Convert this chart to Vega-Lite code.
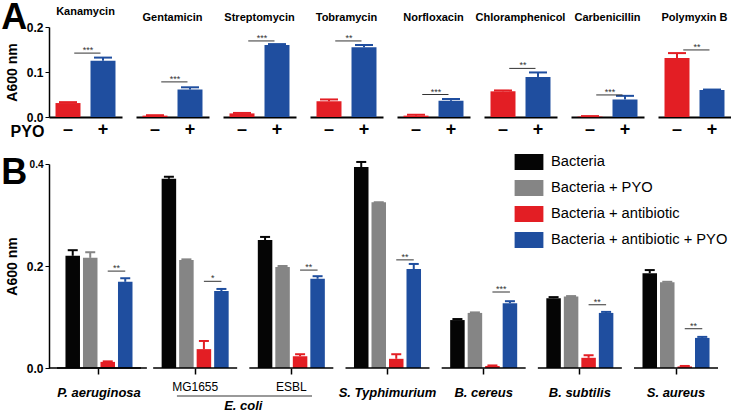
{
  "$schema": "https://vega.github.io/schema/vega-lite/v6.json",
  "padding": {"left": 1, "top": 0, "right": 0, "bottom": 0},
  "spacing": 15,
  "resolve": {"legend": {"color": "independent"}, "scale": {"color": "independent"}},
  "config": {
    "font": "Liberation Sans",
    "view": {"stroke": null},
    "axis": {"grid": false, "labelColor": "black", "titleColor": "black", "domainColor": "black", "tickColor": "black"},
    "title": {"fontSize": 11, "fontWeight": "bold", "offset": 4, "color": "black"},
    "tick": {"opacity": 1}
  },
  "datasets": {
    "A": [
      {"antibiotic": "Kanamycin", "pyo": "–", "value": 0.031, "hi": 0.033},
      {"antibiotic": "Kanamycin", "pyo": "+", "value": 0.125, "hi": 0.132, "sig": 0.142, "stars": "***"},
      {"antibiotic": "Gentamicin", "pyo": "–", "value": 0.003, "hi": 0.004},
      {"antibiotic": "Gentamicin", "pyo": "+", "value": 0.061, "hi": 0.066, "sig": 0.078, "stars": "***"},
      {"antibiotic": "Streptomycin", "pyo": "–", "value": 0.008, "hi": 0.009},
      {"antibiotic": "Streptomycin", "pyo": "+", "value": 0.16, "hi": 0.162, "sig": 0.169, "stars": "***"},
      {"antibiotic": "Tobramycin", "pyo": "–", "value": 0.035, "hi": 0.039},
      {"antibiotic": "Tobramycin", "pyo": "+", "value": 0.155, "hi": 0.16, "sig": 0.169, "stars": "**"},
      {"antibiotic": "Norfloxacin", "pyo": "–", "value": 0.003, "hi": 0.005},
      {"antibiotic": "Norfloxacin", "pyo": "+", "value": 0.036, "hi": 0.04, "sig": 0.05, "stars": "***"},
      {"antibiotic": "Chloramphenicol", "pyo": "–", "value": 0.057, "hi": 0.059},
      {"antibiotic": "Chloramphenicol", "pyo": "+", "value": 0.089, "hi": 0.099, "sig": 0.108, "stars": "**"},
      {"antibiotic": "Carbenicillin", "pyo": "–", "value": 0.001, "hi": 0.002},
      {"antibiotic": "Carbenicillin", "pyo": "+", "value": 0.039, "hi": 0.047, "sig": 0.049, "stars": "***"},
      {"antibiotic": "Polymyxin B", "pyo": "–", "value": 0.131, "hi": 0.142},
      {"antibiotic": "Polymyxin B", "pyo": "+", "value": 0.06, "hi": 0.061, "sig": 0.149, "stars": "**"}
    ],
    "B": [
      {"group": "P. aeruginosa", "cond": "Bacteria", "value": 0.22, "hi": 0.231},
      {"group": "P. aeruginosa", "cond": "Bacteria + PYO", "value": 0.216, "hi": 0.227},
      {"group": "P. aeruginosa", "cond": "Bacteria + antibiotic", "value": 0.012, "hi": 0.013},
      {"group": "P. aeruginosa", "cond": "Bacteria + antibiotic + PYO", "value": 0.169, "hi": 0.176, "sig": 0.19, "stars": "**"},
      {"group": "MG1655", "cond": "Bacteria", "value": 0.371, "hi": 0.375},
      {"group": "MG1655", "cond": "Bacteria + PYO", "value": 0.212, "hi": 0.213},
      {"group": "MG1655", "cond": "Bacteria + antibiotic", "value": 0.037, "hi": 0.053},
      {"group": "MG1655", "cond": "Bacteria + antibiotic + PYO", "value": 0.151, "hi": 0.155, "sig": 0.17, "stars": "*"},
      {"group": "ESBL", "cond": "Bacteria", "value": 0.251, "hi": 0.257},
      {"group": "ESBL", "cond": "Bacteria + PYO", "value": 0.198, "hi": 0.2},
      {"group": "ESBL", "cond": "Bacteria + antibiotic", "value": 0.023, "hi": 0.027},
      {"group": "ESBL", "cond": "Bacteria + antibiotic + PYO", "value": 0.175, "hi": 0.18, "sig": 0.192, "stars": "**"},
      {"group": "S. Typhimurium", "cond": "Bacteria", "value": 0.394, "hi": 0.404},
      {"group": "S. Typhimurium", "cond": "Bacteria + PYO", "value": 0.325, "hi": 0.325},
      {"group": "S. Typhimurium", "cond": "Bacteria + antibiotic", "value": 0.018, "hi": 0.027},
      {"group": "S. Typhimurium", "cond": "Bacteria + antibiotic + PYO", "value": 0.194, "hi": 0.204, "sig": 0.212, "stars": "**"},
      {"group": "B. cereus", "cond": "Bacteria", "value": 0.094, "hi": 0.096},
      {"group": "B. cereus", "cond": "Bacteria + PYO", "value": 0.108, "hi": 0.109},
      {"group": "B. cereus", "cond": "Bacteria + antibiotic", "value": 0.004, "hi": 0.005},
      {"group": "B. cereus", "cond": "Bacteria + antibiotic + PYO", "value": 0.127, "hi": 0.131, "sig": 0.149, "stars": "***"},
      {"group": "B. subtilis", "cond": "Bacteria", "value": 0.137, "hi": 0.139},
      {"group": "B. subtilis", "cond": "Bacteria + PYO", "value": 0.14, "hi": 0.141},
      {"group": "B. subtilis", "cond": "Bacteria + antibiotic", "value": 0.02, "hi": 0.025},
      {"group": "B. subtilis", "cond": "Bacteria + antibiotic + PYO", "value": 0.108, "hi": 0.11, "sig": 0.124, "stars": "**"},
      {"group": "S. aureus", "cond": "Bacteria", "value": 0.186, "hi": 0.192},
      {"group": "S. aureus", "cond": "Bacteria + PYO", "value": 0.168, "hi": 0.169},
      {"group": "S. aureus", "cond": "Bacteria + antibiotic", "value": 0.003, "hi": 0.004},
      {"group": "S. aureus", "cond": "Bacteria + antibiotic + PYO", "value": 0.059, "hi": 0.061, "sig": 0.077, "stars": "**"}
    ]
  },
  "vconcat": [
    {
      "title": {"text": "A", "anchor": "start", "frame": "bounds", "fontSize": 36, "fontWeight": "bold", "offset": 0, "dx": -4, "dy": 59, "baseline": "alphabetic"},
      "hconcat": [
        {
          "title": "Kanamycin", "width": 73, "height": 90,
          "data": {"name": "A"},
          "transform": [{"filter": "datum.antibiotic === 'Kanamycin'"}],
          "encoding": {"x": {"field": "pyo", "type": "nominal", "sort": ["–", "+"], "scale": {"domain": ["–", "+"], "paddingInner": 0.286, "paddingOuter": 0.186},
            "axis": {"title": "PYO", "titleFontSize": 16, "titleFontWeight": "bold", "titleX": -22, "titleY": 14, "titleBaseline": "middle", "titleAlign": "center", "labelAngle": 0, "ticks": false, "labelFontSize": 18, "labelFontWeight": "bold", "domainWidth": 2, "labelPadding": 3}}},
          "layer": [
            {"mark": {"type": "bar"}, "encoding": {"y": {"field": "value", "type": "quantitative", "scale": {"domain": [0, 0.2]}, "axis": {"title": "A600 nm", "values": [0, 0.1, 0.2], "format": ".1f", "labelFontWeight": "bold", "labelFontSize": 12, "titleFontSize": 14, "titleFontWeight": "bold", "titlePadding": 7, "tickSize": 4, "labelPadding": 2, "domainWidth": 1.5}}, "color": {"condition": {"test": "datum.pyo === '+'", "value": "#1f4e9f"}, "value": "#e31e24"}}},
            {"mark": {"type": "rule", "strokeWidth": 2}, "encoding": {"y": {"field": "value", "type": "quantitative"}, "y2": {"field": "hi"}, "color": {"condition": {"test": "datum.pyo === '+'", "value": "#1f4e9f"}, "value": "#e31e24"}}},
            {"mark": {"type": "tick", "orient": "horizontal", "size": 18, "thickness": 2, "opacity": 1}, "encoding": {"y": {"field": "hi", "type": "quantitative"}, "color": {"condition": {"test": "datum.pyo === '+'", "value": "#1f4e9f"}, "value": "#e31e24"}}},
            {"transform": [{"filter": "datum.pyo === '+'"}], "mark": {"type": "rule", "strokeWidth": 1, "color": "#333"}, "encoding": {"x": {"datum": "–", "bandPosition": 0.75}, "x2": {"datum": "+", "bandPosition": 0.4}, "y": {"field": "sig", "type": "quantitative"}}},
            {"transform": [{"filter": "datum.pyo === '+'"}], "mark": {"type": "text", "fontSize": 9, "baseline": "alphabetic", "color": "#333"}, "encoding": {"x": {"field": "pyo", "type": "nominal", "bandPosition": -0.1}, "y": {"field": "sig", "type": "quantitative"}, "text": {"field": "stars"}}}
          ]
        },
        {
          "title": "Gentamicin", "width": 73, "height": 90,
          "data": {"name": "A"},
          "transform": [{"filter": "datum.antibiotic === 'Gentamicin'"}],
          "encoding": {"x": {"field": "pyo", "type": "nominal", "sort": ["–", "+"], "scale": {"domain": ["–", "+"], "paddingInner": 0.286, "paddingOuter": 0.186},
            "axis": {"title": null, "labelAngle": 0, "ticks": false, "labelFontSize": 18, "labelFontWeight": "bold", "domainWidth": 2, "labelPadding": 3}}},
          "layer": [
            {"mark": {"type": "bar"}, "encoding": {"y": {"field": "value", "type": "quantitative", "scale": {"domain": [0, 0.2]}, "axis": null}, "color": {"condition": {"test": "datum.pyo === '+'", "value": "#1f4e9f"}, "value": "#e31e24"}}},
            {"mark": {"type": "rule", "strokeWidth": 2}, "encoding": {"y": {"field": "value", "type": "quantitative", "axis": null}, "y2": {"field": "hi"}, "color": {"condition": {"test": "datum.pyo === '+'", "value": "#1f4e9f"}, "value": "#e31e24"}}},
            {"mark": {"type": "tick", "orient": "horizontal", "size": 18, "thickness": 2, "opacity": 1}, "encoding": {"y": {"field": "hi", "type": "quantitative", "axis": null}, "color": {"condition": {"test": "datum.pyo === '+'", "value": "#1f4e9f"}, "value": "#e31e24"}}},
            {"transform": [{"filter": "datum.pyo === '+'"}], "mark": {"type": "rule", "strokeWidth": 1, "color": "#333"}, "encoding": {"x": {"datum": "–", "bandPosition": 0.75}, "x2": {"datum": "+", "bandPosition": 0.4}, "y": {"field": "sig", "type": "quantitative", "axis": null}}},
            {"transform": [{"filter": "datum.pyo === '+'"}], "mark": {"type": "text", "fontSize": 9, "baseline": "alphabetic", "color": "#333"}, "encoding": {"x": {"field": "pyo", "type": "nominal", "bandPosition": -0.1}, "y": {"field": "sig", "type": "quantitative", "axis": null}, "text": {"field": "stars"}}}
          ]
        },
        {
          "title": "Streptomycin", "width": 73, "height": 90,
          "data": {"name": "A"},
          "transform": [{"filter": "datum.antibiotic === 'Streptomycin'"}],
          "encoding": {"x": {"field": "pyo", "type": "nominal", "sort": ["–", "+"], "scale": {"domain": ["–", "+"], "paddingInner": 0.286, "paddingOuter": 0.186},
            "axis": {"title": null, "labelAngle": 0, "ticks": false, "labelFontSize": 18, "labelFontWeight": "bold", "domainWidth": 2, "labelPadding": 3}}},
          "layer": [
            {"mark": {"type": "bar"}, "encoding": {"y": {"field": "value", "type": "quantitative", "scale": {"domain": [0, 0.2]}, "axis": null}, "color": {"condition": {"test": "datum.pyo === '+'", "value": "#1f4e9f"}, "value": "#e31e24"}}},
            {"mark": {"type": "rule", "strokeWidth": 2}, "encoding": {"y": {"field": "value", "type": "quantitative", "axis": null}, "y2": {"field": "hi"}, "color": {"condition": {"test": "datum.pyo === '+'", "value": "#1f4e9f"}, "value": "#e31e24"}}},
            {"mark": {"type": "tick", "orient": "horizontal", "size": 18, "thickness": 2, "opacity": 1}, "encoding": {"y": {"field": "hi", "type": "quantitative", "axis": null}, "color": {"condition": {"test": "datum.pyo === '+'", "value": "#1f4e9f"}, "value": "#e31e24"}}},
            {"transform": [{"filter": "datum.pyo === '+'"}], "mark": {"type": "rule", "strokeWidth": 1, "color": "#333"}, "encoding": {"x": {"datum": "–", "bandPosition": 0.75}, "x2": {"datum": "+", "bandPosition": 0.4}, "y": {"field": "sig", "type": "quantitative", "axis": null}}},
            {"transform": [{"filter": "datum.pyo === '+'"}], "mark": {"type": "text", "fontSize": 9, "baseline": "alphabetic", "color": "#333"}, "encoding": {"x": {"field": "pyo", "type": "nominal", "bandPosition": -0.1}, "y": {"field": "sig", "type": "quantitative", "axis": null}, "text": {"field": "stars"}}}
          ]
        },
        {
          "title": "Tobramycin", "width": 73, "height": 90,
          "data": {"name": "A"},
          "transform": [{"filter": "datum.antibiotic === 'Tobramycin'"}],
          "encoding": {"x": {"field": "pyo", "type": "nominal", "sort": ["–", "+"], "scale": {"domain": ["–", "+"], "paddingInner": 0.286, "paddingOuter": 0.186},
            "axis": {"title": null, "labelAngle": 0, "ticks": false, "labelFontSize": 18, "labelFontWeight": "bold", "domainWidth": 2, "labelPadding": 3}}},
          "layer": [
            {"mark": {"type": "bar"}, "encoding": {"y": {"field": "value", "type": "quantitative", "scale": {"domain": [0, 0.2]}, "axis": null}, "color": {"condition": {"test": "datum.pyo === '+'", "value": "#1f4e9f"}, "value": "#e31e24"}}},
            {"mark": {"type": "rule", "strokeWidth": 2}, "encoding": {"y": {"field": "value", "type": "quantitative", "axis": null}, "y2": {"field": "hi"}, "color": {"condition": {"test": "datum.pyo === '+'", "value": "#1f4e9f"}, "value": "#e31e24"}}},
            {"mark": {"type": "tick", "orient": "horizontal", "size": 18, "thickness": 2, "opacity": 1}, "encoding": {"y": {"field": "hi", "type": "quantitative", "axis": null}, "color": {"condition": {"test": "datum.pyo === '+'", "value": "#1f4e9f"}, "value": "#e31e24"}}},
            {"transform": [{"filter": "datum.pyo === '+'"}], "mark": {"type": "rule", "strokeWidth": 1, "color": "#333"}, "encoding": {"x": {"datum": "–", "bandPosition": 0.75}, "x2": {"datum": "+", "bandPosition": 0.4}, "y": {"field": "sig", "type": "quantitative", "axis": null}}},
            {"transform": [{"filter": "datum.pyo === '+'"}], "mark": {"type": "text", "fontSize": 9, "baseline": "alphabetic", "color": "#333"}, "encoding": {"x": {"field": "pyo", "type": "nominal", "bandPosition": -0.1}, "y": {"field": "sig", "type": "quantitative", "axis": null}, "text": {"field": "stars"}}}
          ]
        },
        {
          "title": "Norfloxacin", "width": 73, "height": 90,
          "data": {"name": "A"},
          "transform": [{"filter": "datum.antibiotic === 'Norfloxacin'"}],
          "encoding": {"x": {"field": "pyo", "type": "nominal", "sort": ["–", "+"], "scale": {"domain": ["–", "+"], "paddingInner": 0.286, "paddingOuter": 0.186},
            "axis": {"title": null, "labelAngle": 0, "ticks": false, "labelFontSize": 18, "labelFontWeight": "bold", "domainWidth": 2, "labelPadding": 3}}},
          "layer": [
            {"mark": {"type": "bar"}, "encoding": {"y": {"field": "value", "type": "quantitative", "scale": {"domain": [0, 0.2]}, "axis": null}, "color": {"condition": {"test": "datum.pyo === '+'", "value": "#1f4e9f"}, "value": "#e31e24"}}},
            {"mark": {"type": "rule", "strokeWidth": 2}, "encoding": {"y": {"field": "value", "type": "quantitative", "axis": null}, "y2": {"field": "hi"}, "color": {"condition": {"test": "datum.pyo === '+'", "value": "#1f4e9f"}, "value": "#e31e24"}}},
            {"mark": {"type": "tick", "orient": "horizontal", "size": 18, "thickness": 2, "opacity": 1}, "encoding": {"y": {"field": "hi", "type": "quantitative", "axis": null}, "color": {"condition": {"test": "datum.pyo === '+'", "value": "#1f4e9f"}, "value": "#e31e24"}}},
            {"transform": [{"filter": "datum.pyo === '+'"}], "mark": {"type": "rule", "strokeWidth": 1, "color": "#333"}, "encoding": {"x": {"datum": "–", "bandPosition": 0.75}, "x2": {"datum": "+", "bandPosition": 0.4}, "y": {"field": "sig", "type": "quantitative", "axis": null}}},
            {"transform": [{"filter": "datum.pyo === '+'"}], "mark": {"type": "text", "fontSize": 9, "baseline": "alphabetic", "color": "#333"}, "encoding": {"x": {"field": "pyo", "type": "nominal", "bandPosition": -0.1}, "y": {"field": "sig", "type": "quantitative", "axis": null}, "text": {"field": "stars"}}}
          ]
        },
        {
          "title": "Chloramphenicol", "width": 73, "height": 90,
          "data": {"name": "A"},
          "transform": [{"filter": "datum.antibiotic === 'Chloramphenicol'"}],
          "encoding": {"x": {"field": "pyo", "type": "nominal", "sort": ["–", "+"], "scale": {"domain": ["–", "+"], "paddingInner": 0.286, "paddingOuter": 0.186},
            "axis": {"title": null, "labelAngle": 0, "ticks": false, "labelFontSize": 18, "labelFontWeight": "bold", "domainWidth": 2, "labelPadding": 3}}},
          "layer": [
            {"mark": {"type": "bar"}, "encoding": {"y": {"field": "value", "type": "quantitative", "scale": {"domain": [0, 0.2]}, "axis": null}, "color": {"condition": {"test": "datum.pyo === '+'", "value": "#1f4e9f"}, "value": "#e31e24"}}},
            {"mark": {"type": "rule", "strokeWidth": 2}, "encoding": {"y": {"field": "value", "type": "quantitative", "axis": null}, "y2": {"field": "hi"}, "color": {"condition": {"test": "datum.pyo === '+'", "value": "#1f4e9f"}, "value": "#e31e24"}}},
            {"mark": {"type": "tick", "orient": "horizontal", "size": 18, "thickness": 2, "opacity": 1}, "encoding": {"y": {"field": "hi", "type": "quantitative", "axis": null}, "color": {"condition": {"test": "datum.pyo === '+'", "value": "#1f4e9f"}, "value": "#e31e24"}}},
            {"transform": [{"filter": "datum.pyo === '+'"}], "mark": {"type": "rule", "strokeWidth": 1, "color": "#333"}, "encoding": {"x": {"datum": "–", "bandPosition": 0.75}, "x2": {"datum": "+", "bandPosition": 0.4}, "y": {"field": "sig", "type": "quantitative", "axis": null}}},
            {"transform": [{"filter": "datum.pyo === '+'"}], "mark": {"type": "text", "fontSize": 9, "baseline": "alphabetic", "color": "#333"}, "encoding": {"x": {"field": "pyo", "type": "nominal", "bandPosition": -0.1}, "y": {"field": "sig", "type": "quantitative", "axis": null}, "text": {"field": "stars"}}}
          ]
        },
        {
          "title": "Carbenicillin", "width": 73, "height": 90,
          "data": {"name": "A"},
          "transform": [{"filter": "datum.antibiotic === 'Carbenicillin'"}],
          "encoding": {"x": {"field": "pyo", "type": "nominal", "sort": ["–", "+"], "scale": {"domain": ["–", "+"], "paddingInner": 0.286, "paddingOuter": 0.186},
            "axis": {"title": null, "labelAngle": 0, "ticks": false, "labelFontSize": 18, "labelFontWeight": "bold", "domainWidth": 2, "labelPadding": 3}}},
          "layer": [
            {"mark": {"type": "bar"}, "encoding": {"y": {"field": "value", "type": "quantitative", "scale": {"domain": [0, 0.2]}, "axis": null}, "color": {"condition": {"test": "datum.pyo === '+'", "value": "#1f4e9f"}, "value": "#e31e24"}}},
            {"mark": {"type": "rule", "strokeWidth": 2}, "encoding": {"y": {"field": "value", "type": "quantitative", "axis": null}, "y2": {"field": "hi"}, "color": {"condition": {"test": "datum.pyo === '+'", "value": "#1f4e9f"}, "value": "#e31e24"}}},
            {"mark": {"type": "tick", "orient": "horizontal", "size": 18, "thickness": 2, "opacity": 1}, "encoding": {"y": {"field": "hi", "type": "quantitative", "axis": null}, "color": {"condition": {"test": "datum.pyo === '+'", "value": "#1f4e9f"}, "value": "#e31e24"}}},
            {"transform": [{"filter": "datum.pyo === '+'"}], "mark": {"type": "rule", "strokeWidth": 1, "color": "#333"}, "encoding": {"x": {"datum": "–", "bandPosition": 0.75}, "x2": {"datum": "+", "bandPosition": 0.4}, "y": {"field": "sig", "type": "quantitative", "axis": null}}},
            {"transform": [{"filter": "datum.pyo === '+'"}], "mark": {"type": "text", "fontSize": 9, "baseline": "alphabetic", "color": "#333"}, "encoding": {"x": {"field": "pyo", "type": "nominal", "bandPosition": -0.1}, "y": {"field": "sig", "type": "quantitative", "axis": null}, "text": {"field": "stars"}}}
          ]
        },
        {
          "title": "Polymyxin B", "width": 73, "height": 90,
          "data": {"name": "A"},
          "transform": [{"filter": "datum.antibiotic === 'Polymyxin B'"}],
          "encoding": {"x": {"field": "pyo", "type": "nominal", "sort": ["–", "+"], "scale": {"domain": ["–", "+"], "paddingInner": 0.286, "paddingOuter": 0.186},
            "axis": {"title": null, "labelAngle": 0, "ticks": false, "labelFontSize": 18, "labelFontWeight": "bold", "domainWidth": 2, "labelPadding": 3}}},
          "layer": [
            {"mark": {"type": "bar"}, "encoding": {"y": {"field": "value", "type": "quantitative", "scale": {"domain": [0, 0.2]}, "axis": null}, "color": {"condition": {"test": "datum.pyo === '+'", "value": "#1f4e9f"}, "value": "#e31e24"}}},
            {"mark": {"type": "rule", "strokeWidth": 2}, "encoding": {"y": {"field": "value", "type": "quantitative", "axis": null}, "y2": {"field": "hi"}, "color": {"condition": {"test": "datum.pyo === '+'", "value": "#1f4e9f"}, "value": "#e31e24"}}},
            {"mark": {"type": "tick", "orient": "horizontal", "size": 18, "thickness": 2, "opacity": 1}, "encoding": {"y": {"field": "hi", "type": "quantitative", "axis": null}, "color": {"condition": {"test": "datum.pyo === '+'", "value": "#1f4e9f"}, "value": "#e31e24"}}},
            {"transform": [{"filter": "datum.pyo === '+'"}], "mark": {"type": "rule", "strokeWidth": 1, "color": "#333"}, "encoding": {"x": {"datum": "–", "bandPosition": 0.75}, "x2": {"datum": "+", "bandPosition": 0.4}, "y": {"field": "sig", "type": "quantitative", "axis": null}}},
            {"transform": [{"filter": "datum.pyo === '+'"}], "mark": {"type": "text", "fontSize": 9, "baseline": "alphabetic", "color": "#333"}, "encoding": {"x": {"field": "pyo", "type": "nominal", "bandPosition": -0.1}, "y": {"field": "sig", "type": "quantitative", "axis": null}, "text": {"field": "stars"}}}
          ]
        }
      ],
      "spacing": 14,
      "bounds": "flush"
    },
    {
      "title": {"text": "B", "anchor": "start", "frame": "bounds", "fontSize": 36, "fontWeight": "bold", "offset": 0, "dx": -4, "dy": 66, "baseline": "alphabetic"},
      "width": 677, "height": 204,
      "data": {"name": "B"},
      "encoding": {
        "x": {"field": "group", "type": "nominal", "sort": ["P. aeruginosa", "MG1655", "ESBL", "S. Typhimurium", "B. cereus", "B. subtilis", "S. aureus"],
          "scale": {"paddingInner": 0.1265, "paddingOuter": 0.083},
          "axis": {"title": null, "labelAngle": 0, "domain": false, "tickSize": 6, "tickWidth": 1.5, "labelPadding": 12, "labelOverlap": false, "labelLimit": 200,
            "labelBaseline": {"condition": {"test": "datum.value === 'MG1655' || datum.value === 'ESBL'", "value": "middle"}, "value": "top"},
            "labelFontSize": {"condition": {"test": "datum.value === 'MG1655' || datum.value === 'ESBL'", "value": 12}, "value": 13},
            "labelFontWeight": {"condition": {"test": "datum.value === 'MG1655' || datum.value === 'ESBL'", "value": "normal"}, "value": "bold"},
            "labelFontStyle": {"condition": {"test": "datum.value === 'MG1655' || datum.value === 'ESBL'", "value": "normal"}, "value": "italic"}}}
      },
      "layer": [
        {"mark": {"type": "bar"}, "encoding": {
          "xOffset": {"field": "cond", "type": "nominal", "sort": ["Bacteria", "Bacteria + PYO", "Bacteria + antibiotic", "Bacteria + antibiotic + PYO"], "scale": {"paddingInner": 0.171, "paddingOuter": 0.485}},
          "y": {"field": "value", "type": "quantitative", "scale": {"domain": [0, 0.4]}, "axis": {"title": "A600 nm", "values": [0, 0.2, 0.4], "format": ".1f", "labelFontWeight": "bold", "labelFontSize": {"condition": {"test": "datum.value === 0.4", "value": 10}, "value": 12}, "titleFontSize": 14, "titleFontWeight": "bold", "titlePadding": 7, "tickSize": 4, "labelPadding": 2, "domainWidth": 1.5}},
          "color": {"field": "cond", "type": "nominal", "scale": {"domain": ["Bacteria", "Bacteria + PYO", "Bacteria + antibiotic", "Bacteria + antibiotic + PYO"], "range": ["#050505", "#858585", "#e31e24", "#1f4e9f"]},
            "legend": {"title": null, "orient": "none", "legendX": 472, "legendY": -10, "symbolType": "M-1.8,-1L1.8,-1L1.8,1L-1.8,1Z", "symbolSize": 256, "symbolStrokeWidth": 0, "symbolOpacity": 1, "labelFontSize": 14.7, "labelOffset": 14, "rowPadding": 10, "labelLimit": 300, "labelColor": "black"}}
        }},
        {"mark": {"type": "rule", "strokeWidth": 2}, "encoding": {
          "xOffset": {"field": "cond", "type": "nominal", "sort": ["Bacteria", "Bacteria + PYO", "Bacteria + antibiotic", "Bacteria + antibiotic + PYO"]},
          "y": {"field": "value", "type": "quantitative"}, "y2": {"field": "hi"},
          "color": {"field": "cond", "type": "nominal"}
        }},
        {"mark": {"type": "tick", "orient": "horizontal", "size": 10, "thickness": 2, "opacity": 1}, "encoding": {
          "xOffset": {"field": "cond", "type": "nominal", "sort": ["Bacteria", "Bacteria + PYO", "Bacteria + antibiotic", "Bacteria + antibiotic + PYO"]},
          "y": {"field": "hi", "type": "quantitative"},
          "color": {"field": "cond", "type": "nominal"}
        }},
        {"transform": [{"filter": "datum.cond === 'Bacteria'"}], "mark": {"type": "bar", "fill": "transparent", "stroke": "black", "strokeWidth": 1.5}, "encoding": {
          "y": {"datum": 0, "type": "quantitative"}, "y2": {"datum": 0}
        }},
        {"transform": [{"filter": "datum.cond === 'Bacteria' && datum.group === 'P. aeruginosa'"}], "mark": {"type": "rule", "strokeWidth": 1.5, "color": "black"}, "encoding": {
          "x": {"field": "group", "type": "nominal", "bandPosition": -0.095},
          "x2": {"field": "group", "bandPosition": 1.07},
          "y": {"datum": 0, "type": "quantitative"}
        }},
        {"transform": [{"filter": "datum.cond === 'Bacteria + antibiotic + PYO'"}], "mark": {"type": "rule", "strokeWidth": 1, "color": "#333"}, "encoding": {
          "x": {"field": "group", "type": "nominal", "bandPosition": 0.604},
          "x2": {"field": "group", "bandPosition": 0.8125},
          "y": {"field": "sig", "type": "quantitative"}
        }},
        {"transform": [{"filter": "datum.cond === 'Bacteria + antibiotic + PYO'"}], "mark": {"type": "text", "fontSize": 9, "baseline": "alphabetic", "color": "#333"}, "encoding": {
          "x": {"field": "group", "type": "nominal", "bandPosition": 0.708},
          "y": {"field": "sig", "type": "quantitative"},
          "text": {"field": "stars"}
        }},
        {"transform": [{"filter": "datum.cond === 'Bacteria' && datum.group === 'MG1655'"}], "mark": {"type": "rule", "strokeWidth": 1.5, "color": "#777"}, "encoding": {
          "x": {"datum": "MG1655", "bandPosition": 0.283},
          "x2": {"datum": "ESBL", "bandPosition": 0.746},
          "y": {"datum": -0.055, "type": "quantitative"}
        }},
        {"transform": [{"filter": "datum.cond === 'Bacteria' && datum.group === 'MG1655'"}], "mark": {"type": "text", "fontSize": 13, "fontWeight": "bold", "fontStyle": "italic", "baseline": "middle", "color": "black"}, "encoding": {
          "x": {"datum": "MG1655", "bandPosition": 1.073},
          "y": {"datum": -0.075, "type": "quantitative"},
          "text": {"value": "E. coli"}
        }}
      ]
    }
  ]
}
